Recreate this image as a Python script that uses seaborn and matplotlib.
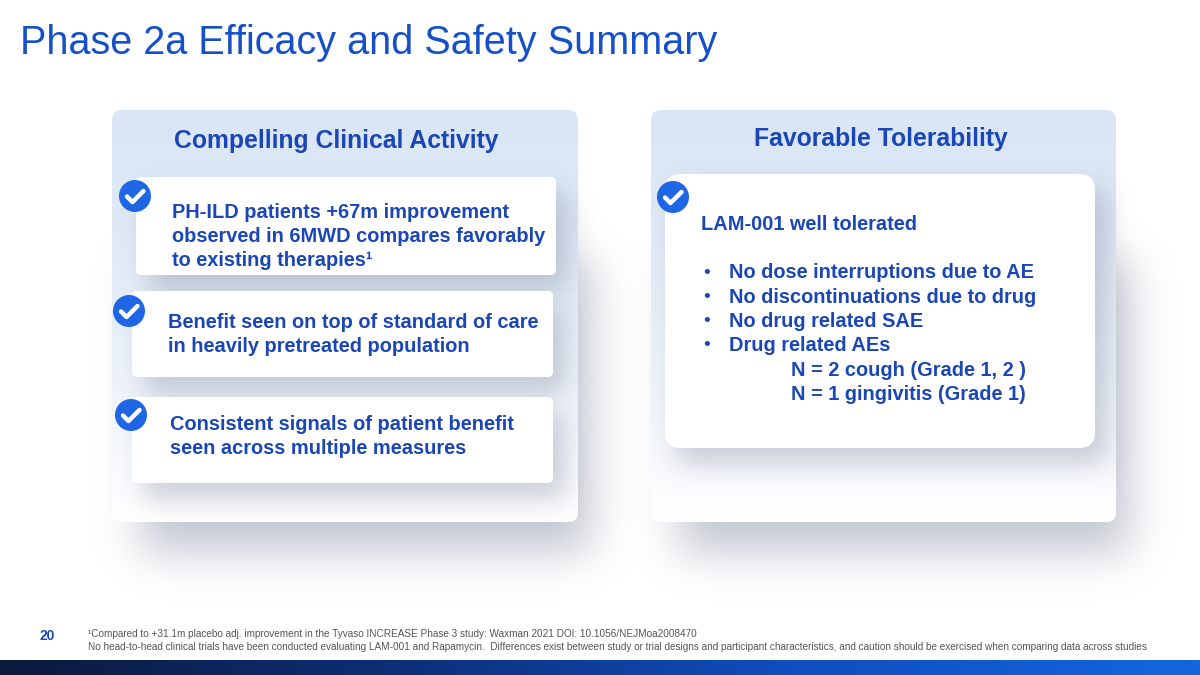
import numpy as np
import matplotlib
matplotlib.use("Agg")
import matplotlib.pyplot as plt
import seaborn as sns
from matplotlib.patches import FancyBboxPatch, Circle
from matplotlib.colors import LinearSegmentedColormap

sns.set_theme(style="white")
plt.rcParams['font.family'] = ['Liberation Sans', 'DejaVu Sans']

# slide text
title = "Phase 2a Efficacy and Safety Summary"
panel_titles = ["Compelling Clinical Activity", "Favorable Tolerability"]
left_items = [
    ["PH-ILD patients +67m improvement", "observed in 6MWD compares favorably", "to existing therapies\u00b9"],
    ["Benefit seen on top of standard of care", "in heavily pretreated population"],
    ["Consistent signals of patient benefit", "seen across multiple measures"],
]
right_head = "LAM-001 well tolerated"
right_bullets = [
    "No dose interruptions due to AE",
    "No discontinuations due to drug",
    "No drug related SAE",
    "Drug related AEs",
]
right_sub = ["N = 2 cough (Grade 1, 2 )", "N = 1 gingivitis (Grade 1)"]
page_no = "20"
footnotes = [
    "\u00b9Compared to +31.1m placebo adj. improvement in the Tyvaso INCREASE Phase 3 study: Waxman 2021 DOI: 10.1056/NEJMoa2008470",
    "No head-to-head clinical trials have been conducted evaluating LAM-001 and Rapamycin.  Differences exist between study or trial designs and participant characteristics, and caution should be exercised when comparing data across studies",
]

BLUE_T = "#1550c8"
BLUE_X = "#1a47b5"
CHECK = "#1f66e5"
FS = 14.4
LH = 23.8
W, H = 1200, 675

panels = [(112, 110, 578, 522), (651, 110, 1116, 522)]
cards = [(136, 177, 556, 275), (132, 291, 553, 377), (132, 397, 553, 483)]
right_card = (665, 174, 1095, 448)

fig = plt.figure(figsize=(12, 6.75), dpi=100)
ax = fig.add_axes([0, 0, 1, 1])
ax.axis("off")

grad = LinearSegmentedColormap.from_list("g", ["#d9e6f5", "#e1eaf6", "#eef3fa", "#ffffff"])


def rbox(x0, y0, x1, y1, r, fc="white", z=2):
    p = FancyBboxPatch((x0 + r, y0 + r), (x1 - x0) - 2 * r, (y1 - y0) - 2 * r,
                       boxstyle=f"round,pad={r}", fc=fc, ec="none", zorder=z)
    ax.add_patch(p)
    return p


def blurred(rects, sigma, dx, dy):
    m = np.zeros((H, W))
    for x0, y0, x1, y1 in rects:
        m[int(y0 + dy):int(y1 + dy), int(x0 + dx):int(x1 + dx)] = 1.0
    k = np.arange(-3 * sigma, 3 * sigma + 1)
    k = np.exp(-0.5 * (k / sigma) ** 2)
    k /= k.sum()
    m = np.apply_along_axis(lambda r: np.convolve(r, k, mode="same"), 1, m)
    m = np.apply_along_axis(lambda c: np.convolve(c, k, mode="same"), 0, m)
    return m


def shadow_image(mask, strength, z, rgb=(0.40, 0.45, 0.54)):
    img = np.zeros((H, W, 4))
    img[..., 0], img[..., 1], img[..., 2] = rgb
    img[..., 3] = np.clip(mask * strength, 0, 1)
    ax.imshow(img, extent=(0, W, H, 0), zorder=z, interpolation="bilinear")


def check(cx, cy):
    ax.add_patch(Circle((cx, cy), 16, fc=CHECK, ec="none", zorder=5))
    ax.plot([cx - 8, cx - 2.5, cx + 8.5], [cy + 0.5, cy + 6, cy - 5], color="white",
            lw=3.2, solid_capstyle="round", solid_joinstyle="round", zorder=6)


# soft shadows under the two panels
shadow_image(blurred([(x0 + 20, y0 + 120, x1 + 5, y1) for x0, y0, x1, y1 in panels], 22, 8, 30),
             0.40, 0.5)

# panels with vertical gradient
for x0, y0, x1, y1 in panels:
    p = rbox(x0, y0, x1, y1, 10, fc="white", z=1)
    im = ax.imshow(np.linspace(0, 1, 256).reshape(-1, 1), cmap=grad, aspect="auto",
                   extent=(x0, x1, y1, y0), zorder=1.1)
    im.set_clip_path(p)

# shadows under the white cards
shadow_image(blurred(cards + [right_card], 13, 12, 16), 0.32, 1.5)

# title
ax.text(20, 43, title, fontsize=28.5, color=BLUE_T, va="center", ha="left")
ax.text(336, 141, panel_titles[0], fontsize=17.8, fontweight="bold", color=BLUE_X, ha="center", va="center", zorder=7)
ax.text(881, 139, panel_titles[1], fontsize=17.8, fontweight="bold", color=BLUE_X, ha="center", va="center", zorder=7)

# left cards
checks = [(135, 196), (129, 311), (131, 415)]
text_pos = [(172, 213), (168, 323), (170, 425)]
for (x0, y0, x1, y1), (cx, cy), (tx, ty), lines in zip(cards, checks, text_pos, left_items):
    rbox(x0, y0, x1, y1, 5, fc="white", z=2)
    check(cx, cy)
    for j, s in enumerate(lines):
        ax.text(tx, ty + j * LH, s, fontsize=FS, fontweight="bold", color=BLUE_X,
                ha="left", va="center", zorder=7)

# right card
rbox(*right_card, 16, fc="white", z=2)
check(673, 197)
ax.text(701, 225, right_head, fontsize=FS, fontweight="bold", color=BLUE_X, va="center", zorder=7)
for i, s in enumerate(right_bullets):
    y = 273 + i * 24.3
    ax.text(703, y, "\u2022", fontsize=14, color=BLUE_X, va="center", zorder=7)
    ax.text(729, y, s, fontsize=FS, fontweight="bold", color=BLUE_X, va="center", zorder=7)
for i, s in enumerate(right_sub):
    ax.text(791, 370 + i * 24.3, s, fontsize=FS, fontweight="bold", color=BLUE_X, va="center", zorder=7)

# footer
ax.text(40, 636, page_no, fontsize=10, fontweight="bold", color=BLUE_X, va="center")
ax.text(88, 634, footnotes[0], fontsize=7.2, color="#555555", va="center")
ax.text(88, 647, footnotes[1], fontsize=7.2, color="#555555", va="center")

bar = LinearSegmentedColormap.from_list("b", ["#0b1a3c", "#0d2f78", "#0f4fc0", "#1466dd"])
ax.imshow(np.linspace(0, 1, 256).reshape(1, -1), cmap=bar, aspect="auto",
          extent=(0, W, H, 660), zorder=3)
ax.set_xlim(0, W)
ax.set_ylim(H, 0)

fig.savefig("out.png", dpi=100)
